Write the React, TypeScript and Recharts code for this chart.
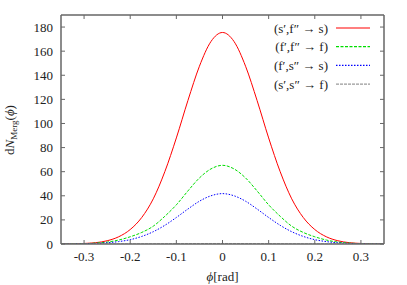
import { LineChart, Line, XAxis, YAxis } from 'recharts'

// phi [rad], sampled every 0.025
const phi = [
    -0.35, -0.325, -0.3, -0.275, -0.25, -0.225, -0.2, -0.175, -0.15, -0.125, -0.1, -0.075, -0.05, -0.025,
    0,
    0.025, 0.05, 0.075, 0.1, 0.125, 0.15, 0.175, 0.2, 0.225, 0.25, 0.275, 0.3, 0.325, 0.35,
]
const sfToS = [
    0.05, 0.15, 0.45, 1.1, 2.7, 6.0, 12.0, 22.0, 37.5, 60.0, 88.0, 119.0, 147.5, 168.0,
    175.5,
    168.0, 147.5, 119.0, 88.0, 60.0, 37.5, 22.0, 12.0, 6.0, 2.7, 1.1, 0.45, 0.15, 0.05,
]
const ffToF = [
    0.03, 0.1, 0.3, 0.75, 1.6, 3.3, 6.0, 9.6, 14.8, 23.0, 32.5, 44.0, 54.8, 62.3,
    65.3,
    62.3, 54.8, 44.0, 32.5, 23.0, 14.8, 9.6, 6.0, 3.3, 1.6, 0.75, 0.3, 0.1, 0.03,
]
const fsToS = [
    0.02, 0.06, 0.2, 0.5, 1.0, 2.0, 3.6, 6.3, 10.2, 15.5, 22.0, 29.0, 35.5, 40.0,
    41.8,
    40.0, 35.5, 29.0, 22.0, 15.5, 10.2, 6.3, 3.6, 2.0, 1.0, 0.5, 0.2, 0.06, 0.02,
]
const ssToF = [
    0, 0, 0, 0.01, 0.02, 0.04, 0.07, 0.11, 0.16, 0.22, 0.28, 0.34, 0.39, 0.42,
    0.43,
    0.42, 0.39, 0.34, 0.28, 0.22, 0.16, 0.11, 0.07, 0.04, 0.02, 0.01, 0, 0, 0,
]

const xTicks = [-0.3, -0.2, -0.1, 0, 0.1, 0.2, 0.3]
const yTicks = [0, 20, 40, 60, 80, 100, 120, 140, 160, 180]

const series = [
    { key: 'sf', label: '(s′,f″ → s)', color: '#ff0000', dash: undefined },
    { key: 'ff', label: '(f′,f″ → f)', color: '#00dd00', dash: '3 1.5' },
    { key: 'fs', label: '(f′,s″ → s)', color: '#0000ff', dash: '1.5 1.5' },
    { key: 'ss', label: '(s′,s″ → f)', color: '#999999', dash: '3 1' },
]

const data = phi.map((p, i) => ({
    phi: p,
    sf: sfToS[i],
    ff: ffToF[i],
    fs: fsToS[i],
    ss: ssToF[i],
}))

const FONT = '"Liberation Serif", "DejaVu Serif", serif'
const FRAME = '#666'
const TEXT = '#222'

const BottomTick = (props: any) => {
    const { x, y, payload } = props
    const v = payload.value
    const s = v === 0 ? '0' : v.toFixed(1)
    return (
        <g>
            <line x1={x} x2={x} y1={y} y2={y - 4} stroke={FRAME} strokeWidth={1} />
            <text x={x} y={y + 17} textAnchor="middle" fontSize={13} style={{ fontFamily: FONT }} fill={TEXT}>{s}</text>
        </g>
    )
}

const TopTick = (props: any) => {
    const { x, y } = props
    return <line x1={x} x2={x} y1={y} y2={y + 4} stroke={FRAME} strokeWidth={1} />
}

const LeftTick = (props: any) => {
    const { x, y, payload } = props
    return (
        <g>
            <line x1={x} x2={x + 4} y1={y} y2={y} stroke={FRAME} strokeWidth={1} />
            <text x={x - 8} y={y + 4.5} textAnchor="end" fontSize={13} style={{ fontFamily: FONT }} fill={TEXT}>{payload.value}</text>
        </g>
    )
}

const RightTick = (props: any) => {
    const { x, y } = props
    return <line x1={x} x2={x - 4} y1={y} y2={y} stroke={FRAME} strokeWidth={1} />
}

const LegendBox = () => (
    <svg width={407} height={100} style={{ position: 'absolute', left: 0, top: 0, pointerEvents: 'none' }}>
        {series.map((s, i) => {
            const y = 28 + i * 18.7
            return (
                <g key={s.key}>
                    <text x={328} y={y + 4.5} textAnchor="end" fontSize={13} style={{ fontFamily: FONT }} fill={TEXT}>{s.label}</text>
                    <path d={`M336,${y}H370`} style={{ stroke: s.color, strokeWidth: 1.2, strokeDasharray: s.dash, fill: 'none' }} />
                </g>
            )
        })}
    </svg>
)

const YLabel = () => (
    <text transform="translate(14,130) rotate(-90)" textAnchor="middle" fontSize={13} style={{ fontFamily: FONT }} fill={TEXT}>
        d<tspan fontStyle="italic">N</tspan>
        <tspan fontSize={9} dy={3}>Merg</tspan>
        <tspan dy={-3}>(</tspan>
        <tspan fontStyle="italic">ϕ</tspan>)
    </text>
)

const XLabel = (props: any) => {
    const vb = props.viewBox
    return (
        <text x={vb.x + vb.width / 2} y={281} textAnchor="middle" fontSize={13} style={{ fontFamily: FONT }} fill={TEXT}>
            <tspan fontStyle="italic">ϕ</tspan>[rad]
        </text>
    )
}

export default function App() {
    return (
        <div style={{ position: 'fixed', left: 0, top: 0, width: 407, height: 285, background: '#fff' }}>
            <LineChart width={407} height={285} data={data} margin={{ top: 0, right: 0, bottom: 0, left: 0 }}>
                <XAxis
                    xAxisId="b"
                    dataKey="phi"
                    type="number"
                    domain={[-0.35, 0.35]}
                    ticks={xTicks}
                    allowDataOverflow
                    height={41}
                    tickSize={0}
                    tickMargin={0}
                    tickLine={false}
                    axisLine={{ stroke: FRAME, strokeWidth: 1.5 }}
                    tick={BottomTick}
                    interval={0}
                    label={{ content: XLabel }}
                />
                <XAxis
                    xAxisId="t"
                    orientation="top"
                    dataKey="phi"
                    type="number"
                    domain={[-0.35, 0.35]}
                    ticks={xTicks}
                    allowDataOverflow
                    height={15}
                    tickSize={0}
                    tickMargin={0}
                    tickLine={false}
                    axisLine={{ stroke: FRAME, strokeWidth: 1.5 }}
                    tick={TopTick}
                    interval={0}
                />
                <YAxis
                    yAxisId="l"
                    type="number"
                    domain={[0, 190]}
                    ticks={yTicks}
                    allowDataOverflow
                    width={61}
                    tickSize={0}
                    tickMargin={0}
                    tickLine={false}
                    axisLine={{ stroke: FRAME, strokeWidth: 1.5 }}
                    tick={LeftTick}
                    interval={0}
                    label={{ content: YLabel }}
                />
                <YAxis
                    yAxisId="r"
                    orientation="right"
                    type="number"
                    domain={[0, 190]}
                    ticks={yTicks}
                    allowDataOverflow
                    width={23}
                    tickSize={0}
                    tickMargin={0}
                    tickLine={false}
                    axisLine={{ stroke: FRAME, strokeWidth: 1.5 }}
                    tick={RightTick}
                    interval={0}
                />
                {/* invisible series so the mirrored top/right axes get drawn */}
                <Line
                    xAxisId="t"
                    yAxisId="r"
                    dataKey="sf"
                    stroke="none"
                    dot={false}
                    activeDot={false}
                    isAnimationActive={false}
                />
                {series.map(s => (
                    <Line
                        key={s.key}
                        xAxisId="b"
                        yAxisId="l"
                        type="monotone"
                        dataKey={s.key}
                        stroke={s.color}
                        strokeWidth={1}
                        strokeDasharray={s.dash}
                        dot={false}
                        isAnimationActive={false}
                    />
                ))}
            </LineChart>
            <LegendBox />
        </div>
    )
}
